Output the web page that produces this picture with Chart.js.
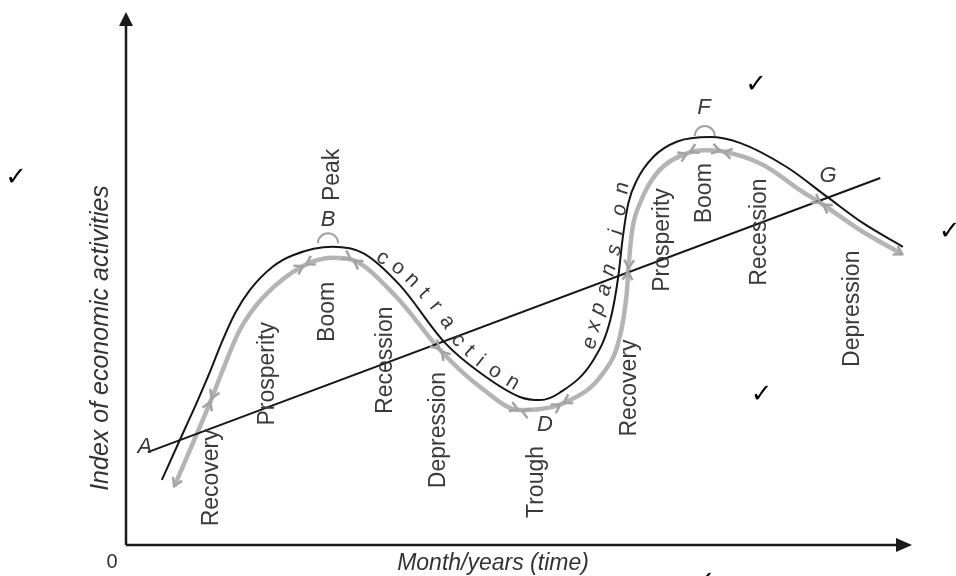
<!DOCTYPE html>
<html lang="en">
<head>
<meta charset="UTF-8">
<title>Business cycle</title>
<script src="https://cdn.jsdelivr.net/npm/chart.js"></script>
<style>
  body { margin: 0; background: #fff; }
  canvas { display: block; }
</style>
</head>
<body>
<canvas id="chart" width="956" height="576"></canvas>
<script>
// actual business cycle (black line): time vs index of activity
const cycleX = [4.6, 6.9, 9.1, 10.8, 12.3, 14.0, 15.9, 18.8, 21.4, 26.5, 30.4, 35.1, 40.9, 45.4, 50.5, 53.1, 55.6, 59.9, 62.1, 63.1, 63.7, 64.4, 65.5, 67.6, 70.6, 74.9, 78.7, 84.7, 89.9, 94.5, 99.6];
const cycleY = [12.4, 20.0, 27.2, 33.1, 38.7, 44.2, 48.6, 53.0, 55.2, 56.8, 55.6, 49.5, 38.5, 32.8, 28.2, 27.6, 29.0, 35.2, 42.9, 51.0, 58.7, 65.1, 69.5, 73.9, 76.8, 77.7, 76.6, 72.0, 66.3, 61.3, 56.8];

// phase path (grey line with arrows)
const phaseX = [6.2, 10.9, 12.4, 14.6, 17.6, 22.9, 26.5, 29.0, 34.7, 40.3, 45.4, 50.5, 53.1, 55.9, 61.2, 63.3, 64.2, 64.4, 64.9, 65.9, 68.1, 72.1, 74.2, 76.4, 81.7, 86.4, 89.2, 94.1, 99.5];
const phaseY = [11.2, 27.6, 33.3, 41.0, 47.2, 53.3, 54.7, 54.3, 47.2, 37.1, 30.1, 25.7, 25.9, 26.9, 32.8, 39.6, 48.0, 52.4, 60.0, 65.1, 70.9, 74.7, 75.2, 75.0, 72.4, 67.6, 65.0, 60.0, 55.4];
const phaseBreaks = [1, 5, 7, 9, 11, 13, 17, 21, 23, 26];

// long-run trend line
const trendX = [2.8, 96.7];
const trendY = [17.7, 69.9];

// phase names written along the cycle
const phaseNames = ['Recovery', 'Prosperity', 'Boom', 'Recession', 'Depression', 'Trough', 'Recovery', 'Prosperity', 'Boom', 'Recession', 'Depression'];
const phaseNameX = [11.0, 18.1, 25.9, 33.3, 40.1, 52.7, 64.6, 68.8, 74.2, 81.2, 93.2];
const phaseNameY = [12.8, 32.6, 44.4, 35.2, 21.9, 12.0, 29.9, 58.1, 67.0, 59.6, 45.0];

// points A, B, D, F, G
const pointNames = ['A', 'B', 'D', 'F', 'G'];
const pointX = [2.4, 25.9, 53.7, 74.1, 90.0];
const pointY = [18.7, 61.9, 22.9, 83.2, 70.3];

const contraction = 'contraction';
const contractionX = [32.9, 34.9, 36.7, 38.2, 39.7, 41.2, 42.6, 44.0, 45.4, 47.3, 49.6];
const contractionY = [54.7, 52.8, 50.5, 48.0, 45.5, 42.5, 39.0, 37.0, 35.0, 33.1, 31.0];
const expansion = 'expansion';
const expansionX = [59.5, 60.0, 60.5, 61.3, 61.9, 62.6, 62.9, 63.3, 63.6];
const expansionY = [38.5, 41.7, 45.0, 48.6, 52.4, 56.2, 59.6, 63.8, 68.0];

// marker checks on the sheet
const checkX = [-14.1, 80.8, 105.6, 81.5, 74.2];
const checkY = [69.9, 87.6, 59.6, 28.6, -7.0];

const toPts = (xs, ys) => xs.map((x, i) => ({ x: x, y: ys[i] }));

function chevron(ctx, tx, ty, dx, dy) {
    const px = -dy, py = dx;
    ctx.beginPath();
    ctx.moveTo(tx - dx * 8 + px * 5, ty - dy * 8 + py * 5);
    ctx.lineTo(tx, ty);
    ctx.lineTo(tx - dx * 8 - px * 5, ty - dy * 8 - py * 5);
    ctx.stroke();
}

function letters(ctx, xs, ys, text, sx, sy, font) {
    ctx.font = font;
    for (let i = 0; i < text.length; i++) {
        const a = Math.max(0, i - 1), b = Math.min(text.length - 1, i + 1);
        const ang = Math.atan2(sy.getPixelForValue(ys[b]) - sy.getPixelForValue(ys[a]),
                               sx.getPixelForValue(xs[b]) - sx.getPixelForValue(xs[a]));
        ctx.save();
        ctx.translate(sx.getPixelForValue(xs[i]), sy.getPixelForValue(ys[i]));
        ctx.rotate(ang);
        ctx.fillText(text[i], 0, 0);
        ctx.restore();
    }
}

const decor = {
    id: 'decor',
    afterDatasetsDraw(chart) {
        const ctx = chart.ctx;
        const sx = chart.scales.x, sy = chart.scales.y;
        const area = chart.chartArea;
        const X = v => sx.getPixelForValue(v), Y = v => sy.getPixelForValue(v);
        ctx.save();

        // arrows on the grey path
        ctx.strokeStyle = '#a3a3a3';
        ctx.lineWidth = 2.5;
        const dirAt = i => {
            const a = Math.max(0, i - 1), b = Math.min(phaseX.length - 1, i + 1);
            const dx = X(phaseX[b]) - X(phaseX[a]), dy = Y(phaseY[b]) - Y(phaseY[a]);
            const l = Math.hypot(dx, dy);
            return [dx / l, dy / l];
        };
        phaseBreaks.forEach(i => {
            const [dx, dy] = dirAt(i);
            const x = X(phaseX[i]), y = Y(phaseY[i]);
            chevron(ctx, x - dx * 2, y - dy * 2, dx, dy);
            chevron(ctx, x + dx * 2, y + dy * 2, -dx, -dy);
        });
        const d0 = dirAt(0);
        chevron(ctx, X(phaseX[0]), Y(phaseY[0]), -d0[0], -d0[1]);
        const last = phaseX.length - 1;
        const dl = dirAt(last);
        chevron(ctx, X(phaseX[last]), Y(phaseY[last]), dl[0], dl[1]);

        // little circles at the peaks
        ctx.lineWidth = 2;
        [[25.9, 57.5], [74.2, 77.9]].forEach(p => {
            ctx.beginPath();
            ctx.arc(X(p[0]), Y(p[1]), 10, Math.PI, 2 * Math.PI);
            ctx.stroke();
        });

        // axes with arrow heads
        ctx.strokeStyle = '#1a1a1a';
        ctx.fillStyle = '#1a1a1a';
        ctx.lineWidth = 2.5;
        ctx.beginPath();
        ctx.moveTo(area.left, area.bottom);
        ctx.lineTo(area.left, area.top - 2);
        ctx.moveTo(area.left, area.bottom);
        ctx.lineTo(area.right - 8, area.bottom);
        ctx.stroke();
        ctx.beginPath();
        ctx.moveTo(area.left, area.top - 8);
        ctx.lineTo(area.left - 7, area.top + 6);
        ctx.lineTo(area.left + 7, area.top + 6);
        ctx.closePath();
        ctx.fill();
        ctx.beginPath();
        ctx.moveTo(area.right + 6, area.bottom);
        ctx.lineTo(area.right - 10, area.bottom - 7);
        ctx.lineTo(area.right - 10, area.bottom + 7);
        ctx.closePath();
        ctx.fill();

        // texts
        ctx.textAlign = 'center';
        ctx.textBaseline = 'middle';
        ctx.fillStyle = '#3a3a3a';
        ctx.font = '23px "Liberation Sans", Arial, sans-serif';
        phaseNames.forEach((t, i) => {
            ctx.save();
            ctx.translate(X(phaseNameX[i]), Y(phaseNameY[i]));
            ctx.rotate(-Math.PI / 2);
            ctx.fillText(t, 0, 0);
            ctx.restore();
        });
        ctx.save();
        ctx.translate(X(26.5), Y(70.5));
        ctx.rotate(-Math.PI / 2);
        ctx.fillText('Peak', 0, 0);
        ctx.restore();

        ctx.font = 'italic 22px "Liberation Sans", Arial, sans-serif';
        pointNames.forEach((t, i) => ctx.fillText(t, X(pointX[i]), Y(pointY[i])));

        letters(ctx, contractionX, contractionY, contraction, sx, sy, '21px "Liberation Sans", Arial, sans-serif');
        letters(ctx, expansionX, expansionY, expansion, sx, sy, 'italic 21px "Liberation Sans", Arial, sans-serif');

        // axis titles
        ctx.fillStyle = '#333';
        ctx.font = 'italic 23px "Liberation Sans", Arial, sans-serif';
        ctx.fillText('Month/years (time)', 493, area.bottom + 19);
        ctx.save();
        ctx.translate(area.left - 25, 338);
        ctx.rotate(-Math.PI / 2);
        ctx.font = 'italic 25px "Liberation Sans", Arial, sans-serif';
        ctx.fillText('Index of economic activities', 0, 0);
        ctx.restore();
        ctx.font = '20px "Liberation Sans", Arial, sans-serif';
        ctx.fillText('0', area.left - 14, area.bottom + 17);

        // checks
        ctx.fillStyle = '#000';
        ctx.font = '26px "DejaVu Sans", sans-serif';
        checkX.forEach((x, i) => ctx.fillText('\u2713', X(x), Y(checkY[i])));
        ctx.restore();
    }
};

new Chart(document.getElementById('chart').getContext('2d'), {
    type: 'line',
    data: {
        datasets: [
            { label: 'Cycle', data: toPts(cycleX, cycleY), borderColor: '#161616', borderWidth: 2, cubicInterpolationMode: 'monotone', pointRadius: 0, clip: false },
            { label: 'Trend', data: toPts(trendX, trendY), borderColor: '#161616', borderWidth: 2, tension: 0, pointRadius: 0, clip: false },
            { label: 'Phases', data: toPts(phaseX, phaseY), borderColor: '#b4b4b4', borderWidth: 4.5, cubicInterpolationMode: 'monotone', pointRadius: 0, clip: false }
        ]
    },
    options: {
        responsive: false,
        animation: false,
        layout: { padding: { left: 126, right: 50, top: 20, bottom: 31 } },
        plugins: { legend: { display: false }, tooltip: { enabled: false } },
        scales: {
            x: { type: 'linear', min: 0, max: 100, display: false },
            y: { type: 'linear', min: 0, max: 100, display: false }
        }
    },
    plugins: [decor]
});
</script>
</body>
</html>
